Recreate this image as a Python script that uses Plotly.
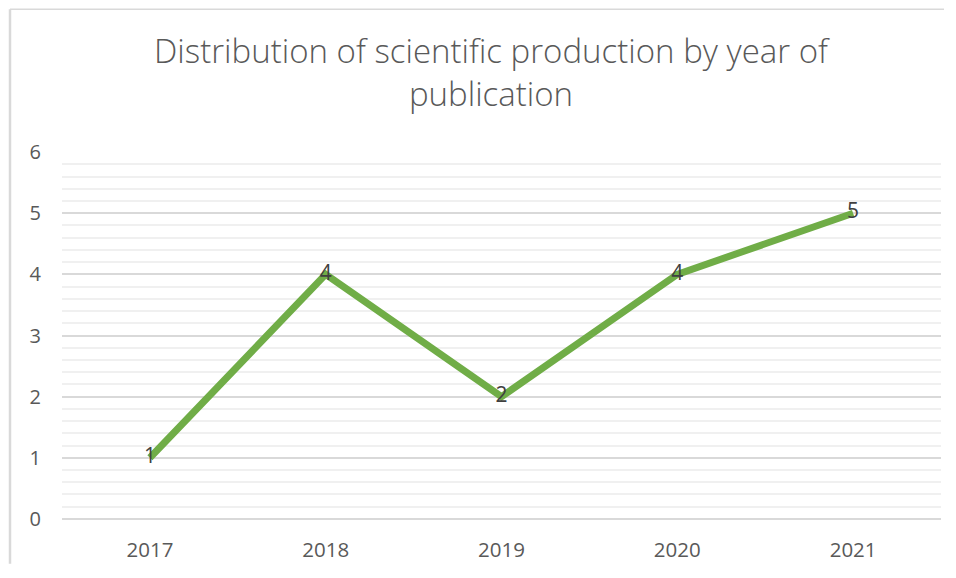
import plotly.graph_objects as go

years = ["2017", "2018", "2019", "2020", "2021"]
counts = [1, 4, 2, 4, 5]
title_text = "Distribution of scientific production by year of<br>publication"

# page body has an 8px margin on every side, so the figure is shrunk to fit
W, H = 940, 562
ml, mr, mt, mb = 54, 7, 144, 49
pw = W - ml - mr
ph = H - mt - mb

fig = go.Figure()
fig.add_trace(go.Scatter(
    x=years, y=counts, mode="lines+text",
    text=[str(v) for v in counts], textposition="middle center",
    textfont=dict(family="Open Sans", size=21, color="#404040"),
    line=dict(color="#70AD47", width=7),
    cliponaxis=False, hoverinfo="skip", showlegend=False,
))

fig.update_layout(
    width=W, height=H,
    margin=dict(l=ml, r=mr, t=mt, b=mb),
    paper_bgcolor="white", plot_bgcolor="white",
    title=dict(text=title_text, x=483 / W, xanchor="center", xref="container",
               y=1 - 55 / H, yanchor="top",
               font=dict(family="Open Sans", size=33, color="#595959", weight=300)),
    xaxis=dict(type="category", range=[-0.5, 4.5], showgrid=False, zeroline=False,
               showline=False, ticks="", ticklabelstandoff=16,
               tickfont=dict(family="Open Sans", size=20.5, color="#595959")),
    yaxis=dict(range=[-0.001, 6.001], tickvals=[0, 1, 2, 3, 4, 5, 6], showgrid=True,
               gridcolor="#D9D9D9", gridwidth=1.5,
               zeroline=True, zerolinecolor="#D9D9D9", zerolinewidth=1.5,
               showline=False, ticks="", ticklabelstandoff=20,
               tickfont=dict(family="Open Sans", size=20, color="#595959")),
)
fig.update_yaxes(minor=dict(dtick=0.2, tick0=0, showgrid=True, gridcolor="#F0F0F0", gridwidth=1.5))

bx = (2 - ml) / pw
by = (H - mb - 0.5) / ph
by0 = -(mb - 4) / ph
fig.add_shape(type="line", xref="paper", yref="paper", x0=bx, x1=(W - 4 - ml) / pw, y0=by, y1=by,
              line=dict(color="#D9D9D9", width=1.5), layer="below")
fig.add_shape(type="line", xref="paper", yref="paper", x0=bx, x1=bx, y0=by0, y1=by,
              line=dict(color="#D9D9D9", width=2.5), layer="below")

fig.write_html("out.html")
